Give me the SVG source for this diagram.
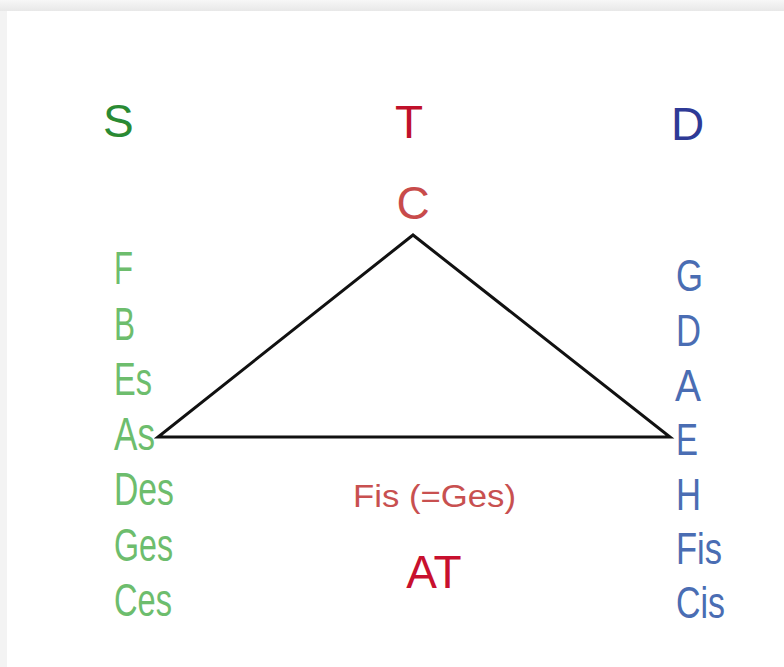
<svg xmlns="http://www.w3.org/2000/svg" width="784" height="667" viewBox="0 0 784 667">
<defs>
<linearGradient id="topg" x1="0" y1="0" x2="0" y2="1"><stop offset="0" stop-color="#f7f7f7"/><stop offset="1" stop-color="#e8e8e8"/></linearGradient>
<style>
text{font-family:"Liberation Sans",Arial,sans-serif}
.sub{fill:#6dbd6d;font-size:47px}
.dom{fill:#4a6db3;font-size:44px}
.hd{font-size:46px}
</style>
</defs>
<rect x="0" y="0" width="784" height="667" fill="#f3f3f3"/>
<rect x="0" y="0" width="784" height="11" fill="url(#topg)"/>
<rect x="7" y="11" width="777" height="656" fill="#ffffff"/>
<g id="connectors">
<polygon points="413,235 158,437 670,437" fill="none" stroke="#111111" stroke-width="3" stroke-linejoin="miter"/>
</g>
<g id="S"><text class="hd" x="103" y="137" fill="#2a8a33">S</text></g>
<g id="T"><text class="hd" x="409" y="138" fill="#c0102a" text-anchor="middle">T</text></g>
<g id="D"><text class="hd" x="671" y="140" fill="#2e3a96">D</text></g>
<g id="C"><text class="hd" x="413" y="219" fill="#c84b4b" text-anchor="middle">C</text></g>
<g id="subdominant">
<text class="sub" x="114" y="284" textLength="19" lengthAdjust="spacingAndGlyphs">F</text>
<text class="sub" x="114" y="340" textLength="21" lengthAdjust="spacingAndGlyphs">B</text>
<text class="sub" x="114" y="395" textLength="38" lengthAdjust="spacingAndGlyphs">Es</text>
<text class="sub" x="114" y="450" textLength="41" lengthAdjust="spacingAndGlyphs">As</text>
<text class="sub" x="114" y="505" textLength="60" lengthAdjust="spacingAndGlyphs">Des</text>
<text class="sub" x="114" y="561" textLength="59" lengthAdjust="spacingAndGlyphs">Ges</text>
<text class="sub" x="114" y="616" textLength="58" lengthAdjust="spacingAndGlyphs">Ces</text>
</g>
<g id="dominant">
<text class="dom" x="676" y="291" textLength="27" lengthAdjust="spacingAndGlyphs">G</text>
<text class="dom" x="676" y="346" textLength="25" lengthAdjust="spacingAndGlyphs">D</text>
<text class="dom" x="675" y="401" textLength="26" lengthAdjust="spacingAndGlyphs">A</text>
<text class="dom" x="676" y="455" textLength="22" lengthAdjust="spacingAndGlyphs">E</text>
<text class="dom" x="676" y="510" textLength="25" lengthAdjust="spacingAndGlyphs">H</text>
<text class="dom" x="676" y="564" textLength="46" lengthAdjust="spacingAndGlyphs">Fis</text>
<text class="dom" x="676" y="618" textLength="49" lengthAdjust="spacingAndGlyphs">Cis</text>
</g>
<g id="Fis"><text x="353" y="507" font-size="31" fill="#c85050" textLength="163" lengthAdjust="spacingAndGlyphs">Fis (=Ges)</text></g>
<g id="AT"><text class="hd" x="434" y="588" fill="#c8102e" text-anchor="middle">AT</text></g>
</svg>
